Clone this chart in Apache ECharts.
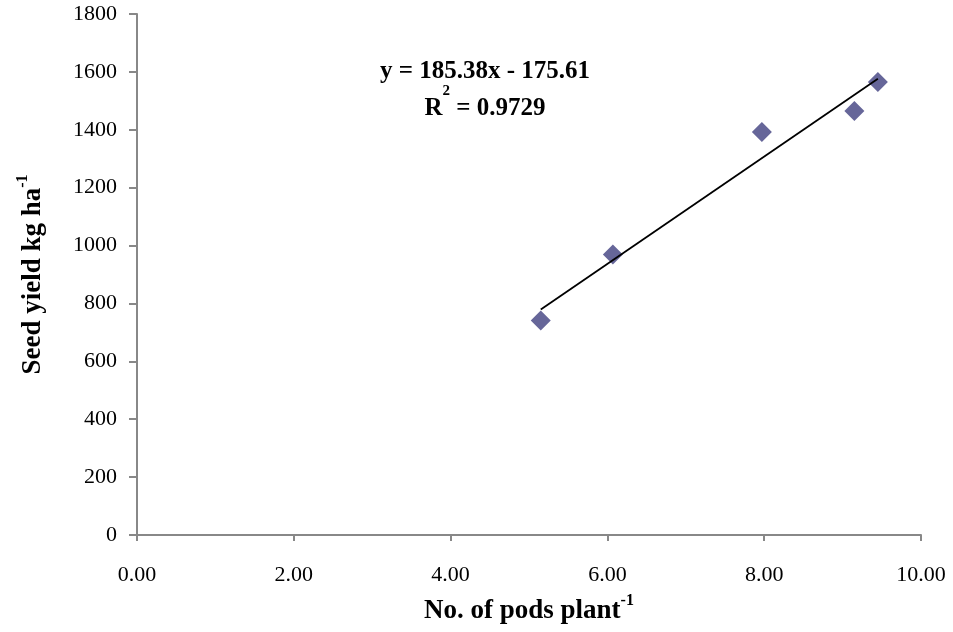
<!DOCTYPE html>
<html><head><meta charset="utf-8">
<script src="https://cdn.jsdelivr.net/npm/echarts@6/dist/echarts.min.js"></script>
<style>html,body{margin:0;padding:0;background:#fff}#c{width:953px;height:632px}</style>
</head><body><div id="c"></div>
<script>
const podsPerPlant = [5.15, 6.07, 7.97, 9.15, 9.45];
const seedYield = [741, 969, 1392, 1465, 1565];
const trendSlope = 185.38;
const trendIntercept = -175.61;
const rSquared = 0.9729;
const xTickLabels = ['0.00', '2.00', '4.00', '6.00', '8.00', '10.00'];
const yTickLabels = ['0', '200', '400', '600', '800', '1000', '1200', '1400', '1600', '1800'];

const FONT = 'Liberation Serif';
const points = podsPerPlant.map((x, i) => [x, seedYield[i]]);
const xMin = Math.min(...podsPerPlant), xMax = Math.max(...podsPerPlant);
const trend = [[xMin, trendSlope * xMin + trendIntercept], [xMax, trendSlope * xMax + trendIntercept]];
const eqText = 'y = ' + trendSlope.toFixed(2) + 'x - ' + Math.abs(trendIntercept).toFixed(2);

const titleRich = {
  m: {fontFamily: FONT, fontWeight: 'bold', fontSize: 27, lineHeight: 32, verticalAlign: 'bottom', color: '#000'},
  s: {fontFamily: FONT, fontWeight: 'bold', fontSize: 16, verticalAlign: 'top', lineHeight: 32, color: '#000'}
};

const chart = echarts.init(document.getElementById('c'), null, {renderer: 'canvas'});
chart.setOption({
  backgroundColor: '#ffffff',
  animation: false,
  grid: {left: 137, right: 32, top: 14, bottom: 97, containLabel: false},
  xAxis: {
    type: 'value', min: 0, max: 10, interval: 2,
    axisLine: {show: true, lineStyle: {color: '#888888', width: 2}},
    axisTick: {show: true, length: 6, lineStyle: {color: '#888888', width: 2}},
    splitLine: {show: false},
    axisLabel: {margin: 29, fontFamily: FONT, fontSize: 22, color: '#000',
      formatter: (v, i) => xTickLabels[i]},
    name: '{m|No. of pods plant}{s|-1}',
    nameLocation: 'middle', nameGap: 58,
    nameTextStyle: {fontFamily: FONT, fontWeight: 'bold', fontSize: 27, color: '#000', rich: titleRich}
  },
  yAxis: {
    type: 'value', min: 0, max: 1800, interval: 200,
    axisLine: {show: true, lineStyle: {color: '#888888', width: 2}},
    axisTick: {show: true, length: 8, lineStyle: {color: '#888888', width: 2}},
    splitLine: {show: false},
    axisLabel: {margin: 20, fontFamily: FONT, fontSize: 22, color: '#000',
      formatter: (v, i) => yTickLabels[i]},
    name: '{m|Seed yield kg ha}{s|-1}',
    nameLocation: 'middle', nameGap: 90, nameRotate: 90,
    nameTextStyle: {fontFamily: FONT, fontWeight: 'bold', fontSize: 27, color: '#000', rich: titleRich}
  },
  graphic: [{
    type: 'text', x: 485, y: 47, z: 10,
    style: {
      text: '{a|' + eqText + '}\n{a|R}{s|2}{a| = ' + rSquared.toFixed(4) + '}',
      align: 'center', verticalAlign: 'top',
      rich: {
        a: {fontFamily: FONT, fontWeight: 'bold', fontSize: 25, fill: '#000', lineHeight: 37, verticalAlign: 'bottom'},
        s: {fontFamily: FONT, fontWeight: 'bold', fontSize: 15, fill: '#000', lineHeight: 37, verticalAlign: 'top'}
      }
    }
  }],
  series: [
    {type: 'scatter', data: points, symbol: 'diamond', symbolSize: 20,
     itemStyle: {color: '#666699', opacity: 1}, z: 2},
    {type: 'line', data: trend, symbol: 'none', lineStyle: {color: '#000', width: 1.8}, z: 3}
  ]
});
</script></body></html>
